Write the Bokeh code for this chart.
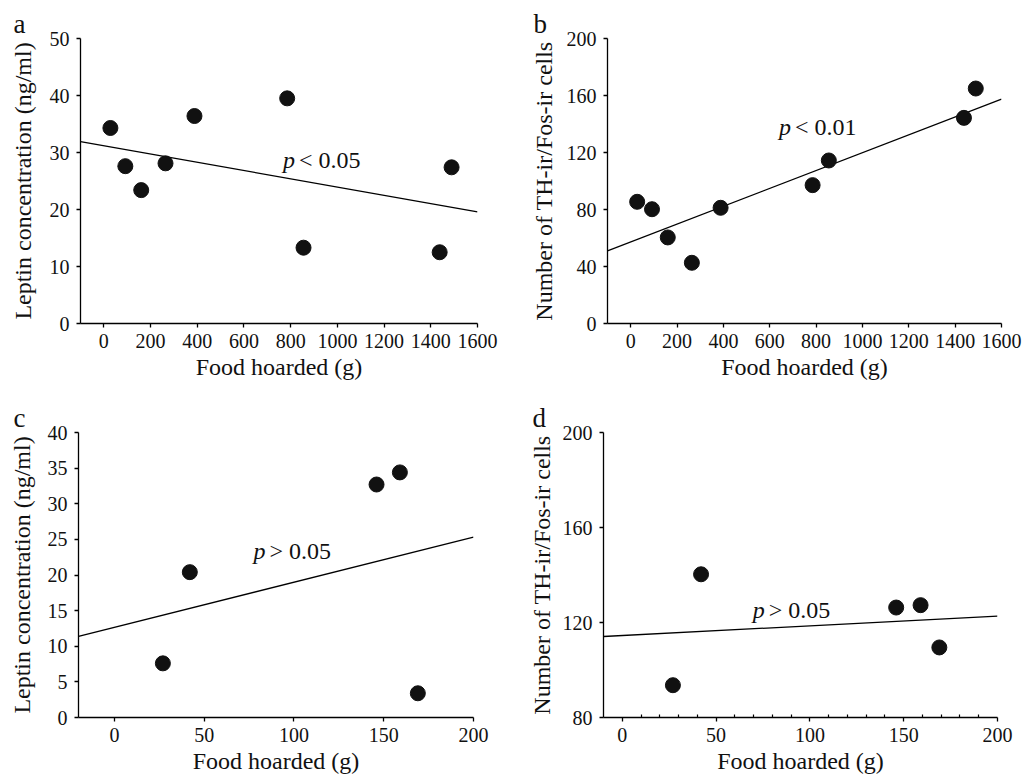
from bokeh.plotting import figure
from bokeh.models import FixedTicker, Label, Range1d
from bokeh.layouts import row, column
from bokeh.embed import file_html
from bokeh.resources import INLINE

FONT = "Liberation Serif"
INK = "#111111"

# ---------------- data ----------------
food_ab = [28, 92, 160, 264, 388, 785, 855, 1438, 1489]
leptin_a = [34.3, 27.6, 23.4, 28.1, 36.4, 39.5, 13.3, 12.5, 27.4]
cells_b = [85.4, 80.2, 60.4, 42.6, 81.2, 97.1, 114.4, 144.3, 164.9]

food_cd = [27, 42, 146, 159, 169]
leptin_c = [7.6, 20.4, 32.7, 34.4, 3.4]
cells_d = [93.6, 140.3, 126.3, 127.3, 109.5]

# regression lines (end points)
fit_x_ab = [-100, 1600]
fit_a = [31.9, 19.6]
fit_b = [51.0, 157.4]
fit_x_c = [-20, 200]
fit_c = [11.4, 25.3]
fit_x_d = [-10, 200]
fit_d = [114.1, 122.7]

xticks_ab = [0, 200, 400, 600, 800, 1000, 1200, 1400, 1600]
yticks_a = [0, 10, 20, 30, 40, 50]
yticks_b = [0, 40, 80, 120, 160, 200]
xticks_cd = [0, 50, 100, 150, 200]
yticks_c = [0, 5, 10, 15, 20, 25, 30, 35, 40]
yticks_d = [80, 120, 160, 200]
xminor_d = [10, 20, 30, 40, 60, 70, 80, 90, 110, 120, 130, 140, 160, 170, 180, 190]

xlabel = "Food hoarded (g)"
ylabel_leptin = "Leptin concentration (ng/ml)"
ylabel_cells = "Number of TH-ir/Fos-ir cells"

p_texts = ["< 0.05", "< 0.01", "> 0.05", "> 0.05"]
letters = ["a", "b", "c", "d"]


def panel(letter, xs, ys, fx, fy, xr, yr, xticks, yticks, ylab, ptxt, ppos,
          fw, fh, bl, br, bt, bb, letter_dx, y_standoff, minor=None):
    p = figure(output_backend="svg", toolbar_location=None,
               frame_width=fw, frame_height=fh,
               min_border_left=bl, min_border_right=br,
               min_border_top=bt, min_border_bottom=bb,
               x_range=Range1d(*xr), y_range=Range1d(*yr))
    p.outline_line_color = None
    p.grid.visible = False
    p.background_fill_color = "white"
    p.border_fill_color = "white"

    # panel letter as the title, pushed to the left of the frame
    p.title.text = letter
    p.title.align = "left"
    p.title.offset = letter_dx
    p.title.standoff = 0
    p.title.text_font = FONT
    p.title.text_font_size = "27px"
    p.title.text_font_style = "normal"
    p.title.text_color = INK

    p.xaxis.ticker = FixedTicker(ticks=xticks, minor_ticks=minor or [])
    p.yaxis.ticker = FixedTicker(ticks=yticks, minor_ticks=[])
    for ax in (p.xaxis, p.yaxis):
        ax.axis_line_color = "black"
        ax.axis_line_width = 1.3
        ax.major_tick_line_color = "black"
        ax.major_tick_line_width = 1.3
        ax.major_tick_out = 4
        ax.major_tick_in = 0
        ax.minor_tick_line_color = "black"
        ax.minor_tick_line_width = 1.2
        ax.minor_tick_in = 3
        ax.minor_tick_out = 0
        ax.major_label_text_font = FONT
        ax.major_label_text_font_size = "20px"
        ax.major_label_text_color = INK
        ax.axis_label_text_font = FONT
        ax.axis_label_text_font_size = "24px"
        ax.axis_label_text_font_style = "normal"
        ax.axis_label_text_color = INK
    p.xaxis.major_label_standoff = 6
    p.yaxis.major_label_standoff = 7
    p.xaxis.axis_label = xlabel
    p.yaxis.axis_label = ylab
    p.xaxis.axis_label_standoff = 3
    p.yaxis.axis_label_standoff = y_standoff

    p.line(fx, fy, line_color="black", line_width=1.3)
    p.scatter(xs, ys, size=15, fill_color=INK, line_color=INK)

    px, py = ppos
    p.add_layout(Label(x=px, y=py, text="p", text_font=FONT,
                       text_font_size="24px", text_font_style="italic",
                       text_color=INK, text_baseline="middle"))
    p.add_layout(Label(x=px, y=py, x_offset=16, text=ptxt, text_font=FONT,
                       text_font_size="24px", text_color=INK,
                       text_baseline="middle"))
    return p


pa = panel(letters[0], food_ab, leptin_a, fit_x_ab, fit_a, (-100, 1600), (0, 50),
           xticks_ab, yticks_a, ylabel_leptin, p_texts[0], (767, 28.6),
           397, 285, 80, 50, 38, 66, -67, 11)
pb = panel(letters[1], food_ab, cells_b, fit_x_ab, fit_b, (-100, 1600), (0, 200),
           xticks_ab, yticks_b, ylabel_cells, p_texts[1], (640, 138.0),
           394, 285, 80, 22, 38, 66, -74, 7)
pc = panel(letters[2], food_cd, leptin_c, fit_x_c, fit_c, (-20, 200), (0, 40),
           xticks_cd, yticks_c, ylabel_leptin, p_texts[2], (77.5, 23.3),
           395, 285, 78, 52, 43, 58, -65, 10)
pd_ = panel(letters[3], food_cd, cells_d, fit_x_d, fit_d, (-10, 200), (80, 200),
            xticks_cd, yticks_d, ylabel_cells, p_texts[3], (69.5, 125.4),
            394, 285, 78, 22, 43, 58, -71, 5, minor=xminor_d)

layout = column(row(pa, pb), row(pc, pd_))

open("out.html", "w").write(file_html(layout, INLINE, "Food hoarding"))
